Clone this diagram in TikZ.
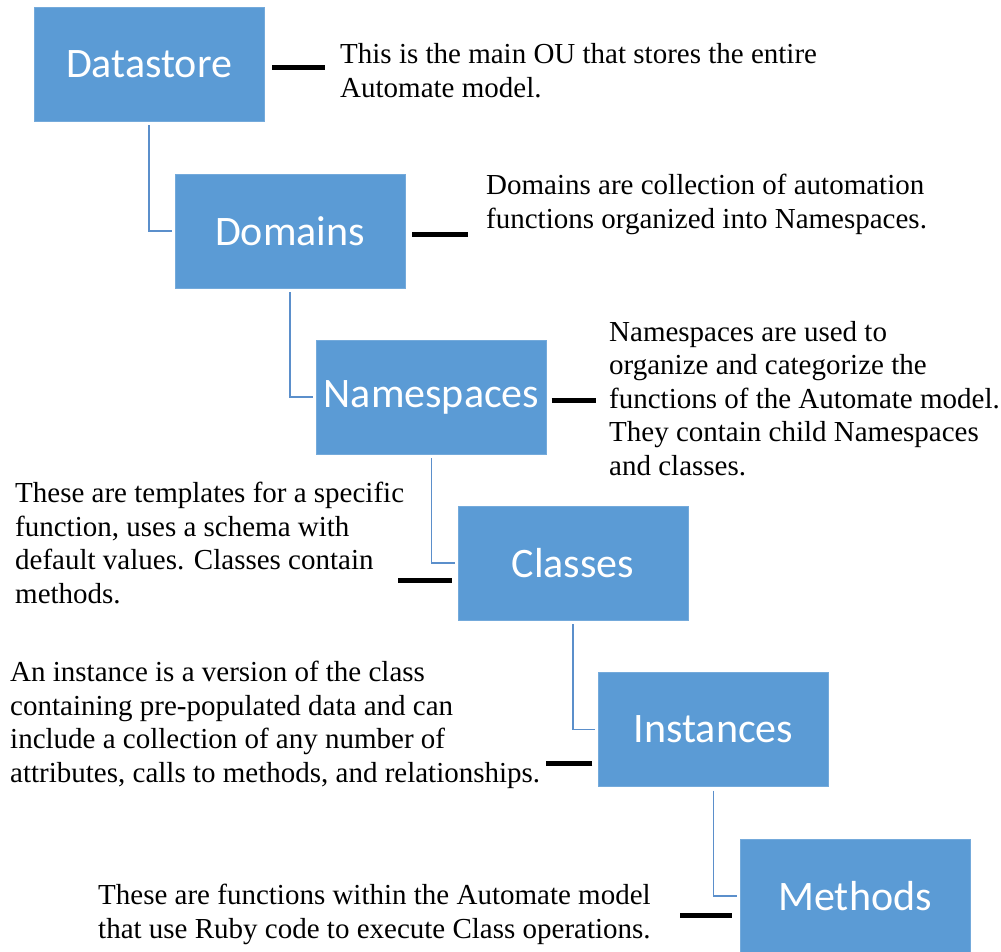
\documentclass[tikz,border=0pt]{standalone}
\usepackage{fontspec}
\setmainfont{Liberation Serif}
\newfontfamily\boxfont{Carlito}
\definecolor{boxblue}{HTML}{5B9BD5}
\definecolor{linkblue}{HTML}{5B8FCB}

\begin{document}
\begin{tikzpicture}[x=1pt,y=-1pt]
        \tikzset{level/.style = {rectangle,fill=boxblue,draw=boxblue!85!white,minimum width=230pt,minimum height=114pt,inner sep=0pt,text=white,font=\boxfont\fontsize{42}{46}\selectfont}};
        \tikzset{note/.style = {anchor=base west,align=left,inner sep=0pt,font=\fontsize{29}{33.5}\selectfont}};
        \tikzset{link/.style = {draw=linkblue,line width=1.8pt,shorten <=4pt,shorten >=3pt}};
        \tikzset{blackbar/.style = {line width=5pt}};
        \useasboundingbox (0,0) rectangle (1001,951);
        \node[level] (ds) at (149,64) {Datastore};
        \node[level] (dom) at (290,231) {Domains};
        \node[level] (ns) at (431.5,397) {Namespaces};
        \node[level] (cls) at (573,563) {Classes};
        \node[level] (inst) at (713.5,729.5) {Instances};
        \node[level] (meth) at (855,896) {Methods};
        % notes are placed by the baseline of their last line
        \node[note] (dstext) at (340,97) {This is the main OU that stores the entire\\Automate model.};
        \node[note] (domtext) at (486,228) {Domains are collection of automation\\functions organized into Namespaces.};
        \node[note] (nstext) at (609,475) {Namespaces are used to\\organize and categorize the\\functions of the Automate model.\\They contain child Namespaces\\and classes.};
        \node[note] (clstext) at (15,603) {These are templates for a specific\\function, uses a schema with\\default values. Classes contain\\methods.};
        \node[note] (insttext) at (10,782) {An instance is a version of the class\\containing pre-populated data and can\\include a collection of any number of\\attributes, calls to methods, and relationships.};
        \node[note] (methtext) at (98,938) {These are functions within the Automate model\\that use Ruby code to execute Class operations.};
        \draw[link] (ds.south) |- (dom.west);
        \draw[link] (dom.south) |- (ns.west);
        \draw[link] (ns.south) |- (cls.west);
        \draw[link] (cls.south) |- (inst.west);
        \draw[link] (inst.south) |- (meth.west);
        \draw[blackbar] ([shift={(8,3)}]ds.east) -- ++(53,0);
        \draw[blackbar] ([shift={(7,3)}]dom.east) -- ++(56,0);
        \draw[blackbar] ([shift={(5,3)}]ns.east) -- ++(44,0);
        \draw[blackbar] ([shift={(-6,17)}]cls.west) -- ++(-54,0);
        \draw[blackbar] ([shift={(-6,33.5)}]inst.west) -- ++(-46,0);
        \draw[blackbar] ([shift={(-8,19)}]meth.west) -- ++(-52,0);
    \end{tikzpicture}
\end{document}
